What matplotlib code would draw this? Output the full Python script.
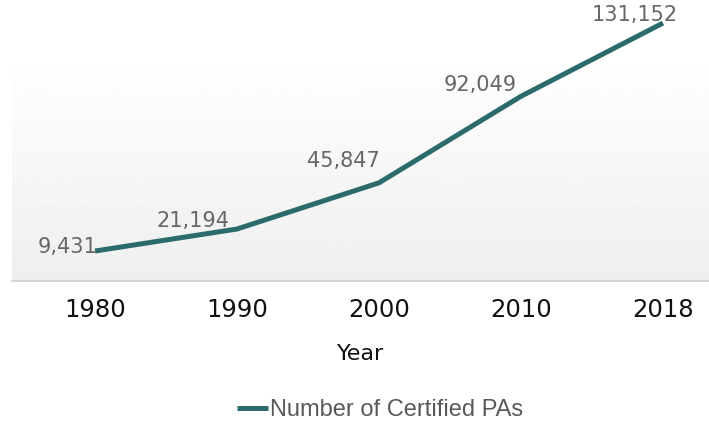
import matplotlib.pyplot as plt
import numpy as np

anos = ["1980", "1990", "2000", "2010", "2018"]
certificados = [9431, 21194, 45847, 92049, 131152]

# deslocamento dos rótulos (pixels), ajustado à mão
desloc = [(2, 4), (-7, 8), (1, 22), (-4, 11), (15, 8)]

cor_linha = "#2b6b6b"
cor_rotulo = "#666666"

fig = plt.figure(figsize=(7.09, 4.22), dpi=100)
ax = fig.add_axes([12 / 709, 1 - 281 / 422, 697 / 709, 281 / 422])

x = np.arange(len(anos))
ax.set_xlim(-0.5845, 4.324)
ax.set_ylim(-6567, 143452)

# fundo em degradê (cinza claro embaixo, branco em cima)
grad = np.linspace(0.935, 1.0, 256).reshape(-1, 1)
topo = (281 - 55) / 281
ax.imshow(grad, cmap="gray", vmin=0, vmax=1, aspect="auto", origin="lower",
          extent=(0, 1, 0, topo), transform=ax.transAxes, zorder=0)

linha, = ax.plot(x, certificados, color=cor_linha, linewidth=3.6,
                 solid_capstyle="butt", zorder=3, clip_on=False,
                 label="Number of Certified PAs")

for i, v in enumerate(certificados):
    ax.annotate(f"{v:,}", (x[i], v), xytext=desloc[i],
                textcoords="offset pixels", ha="right", va="center",
                fontsize=15, color=cor_rotulo, family="DejaVu Sans",
                zorder=4)

for lado in ["top", "right", "left"]:
    ax.spines[lado].set_visible(False)
ax.spines["bottom"].set_color("#cfcfcf")
ax.spines["bottom"].set_linewidth(1.2)

ax.set_yticks([])
ax.set_xticks(x)
ax.set_xticklabels(anos, fontsize=17.5, family="DejaVu Sans", color="#111111")
ax.tick_params(axis="x", length=0, pad=12)
ax.set_xlabel("Year", fontsize=16, family="DejaVu Sans", color="#111111",
              labelpad=16)

fig.legend(handles=[linha], loc="center", bbox_to_anchor=(380 / 709, 1 - 410 / 422),
           frameon=False, prop={"family": "Liberation Sans", "size": 17},
           labelcolor="#595959", handlelength=1.3, handletextpad=0.1)

fig.savefig("out.png", dpi=100)
